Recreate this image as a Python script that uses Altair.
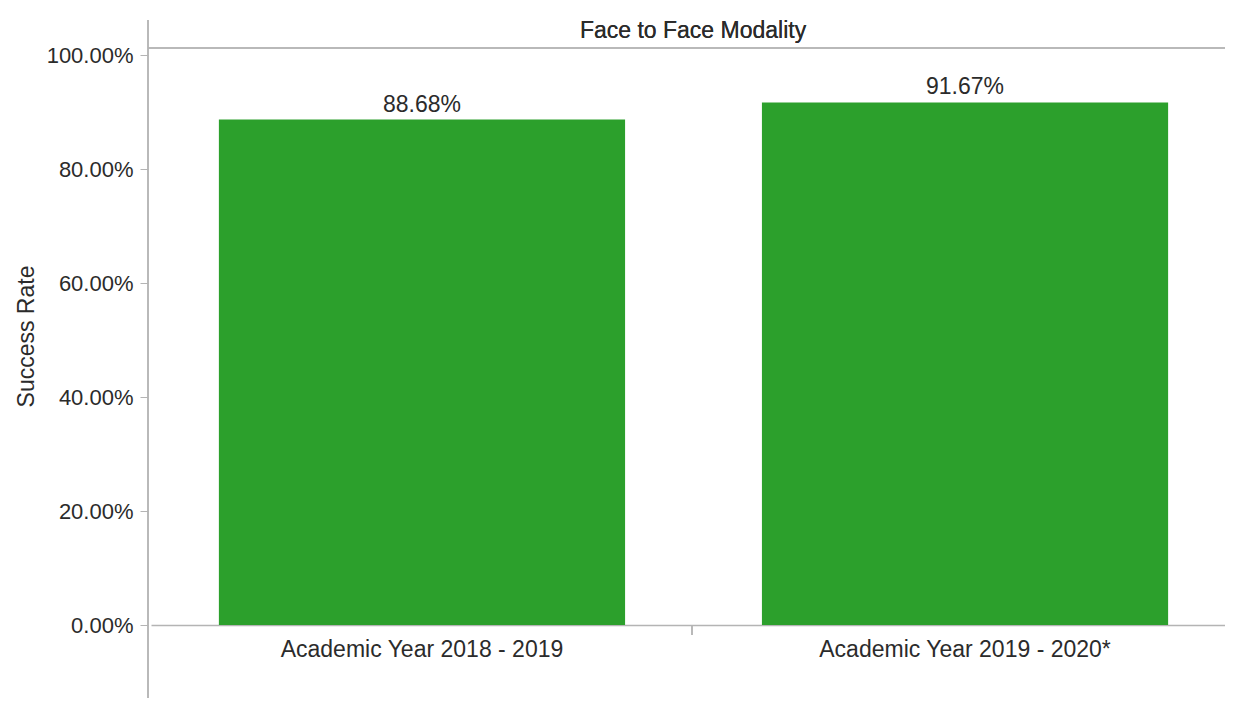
import altair as alt
import pandas as pd

categories = ["Academic Year 2018 - 2019", "Academic Year 2019 - 2020*"]
success_rates = [0.8868, 0.9167]
y_ticks = [0.0, 0.2, 0.4, 0.6, 0.8, 1.0]
header_text = "Face to Face Modality"

df = pd.DataFrame({"year": categories, "rate": success_rates})

FONT = "Liberation Sans"
FS = 23
FS_Y = 22
TXT = "#2b2b2b"
LINE = "#b4b4b4"
GREEN = "#2ca02c"
W, H = 1077, 570

x_enc = alt.X(
    "year:N",
    sort=None,
    title=None,
    scale=alt.Scale(paddingInner=0.252, paddingOuter=0.125, range=[3, 1088]),
    axis=alt.Axis(
        labelAngle=0,
        labelFont=FONT,
        labelFontSize=FS,
        labelColor=TXT,
        labelPadding=13,
        labelLimit=500,
        ticks=False,
        tickSize=0,
        domainColor=LINE,
        domainWidth=1.5,
        grid=False,
    ),
)
y_enc = alt.Y(
    "rate:Q",
    title="Success Rate",
    scale=alt.Scale(domain=[0, 1], nice=False),
    axis=alt.Axis(
        values=y_ticks,
        format=".2%",
        labelFont=FONT,
        labelFontSize=FS_Y,
        labelColor=TXT,
        labelPadding=7,
        tickSize=8,
        tickColor=LINE,
        domain=False,
        grid=False,
        titleFont=FONT,
        titleFontSize=FS,
        titleFontWeight="normal",
        titleColor=TXT,
        titleAngle=-90,
        titleX=-122,
        titleY=281,
        titleAlign="center",
        titleBaseline="middle",
    ),
)

base = alt.Chart(df)

bars = base.mark_bar(color=GREEN).encode(x=x_enc, y=y_enc)

labels = base.mark_text(
    font=FONT, fontSize=FS, color=TXT, dy=-15, baseline="middle"
).encode(x=alt.X("year:N", sort=None), y="rate:Q", text=alt.Text("rate:Q", format=".2%"))

vline = base.mark_rule(color=LINE, strokeWidth=1.5, clip=False).encode(
    x=alt.value(0), y=alt.value(-35), y2=alt.value(690)
)
hline = base.mark_rule(color=LINE, strokeWidth=1.5, clip=False).encode(
    x=alt.value(0), x2=alt.value(1085), y=alt.value(-7)
)
divider = base.mark_rule(color=LINE, strokeWidth=1.5, clip=False).encode(
    x=alt.value(544), y=alt.value(H), y2=alt.value(H + 10)
)
header = base.mark_text(
    font=FONT, fontSize=FS, color=TXT, baseline="middle", align="center"
).encode(x=alt.value(545), y=alt.value(-24), text=alt.value(header_text))

chart = (
    alt.layer(bars, labels, vline, hline, divider, header)
    .properties(
        width=W,
        height=H,
        autosize=alt.AutoSizeParams(type="none"),
        padding={"left": 140, "top": 47, "right": 0, "bottom": 73},
        background="white",
    )
    .configure_view(stroke=None)
)

chart.save("out.html", embed_options={"renderer": "svg", "actions": False})
